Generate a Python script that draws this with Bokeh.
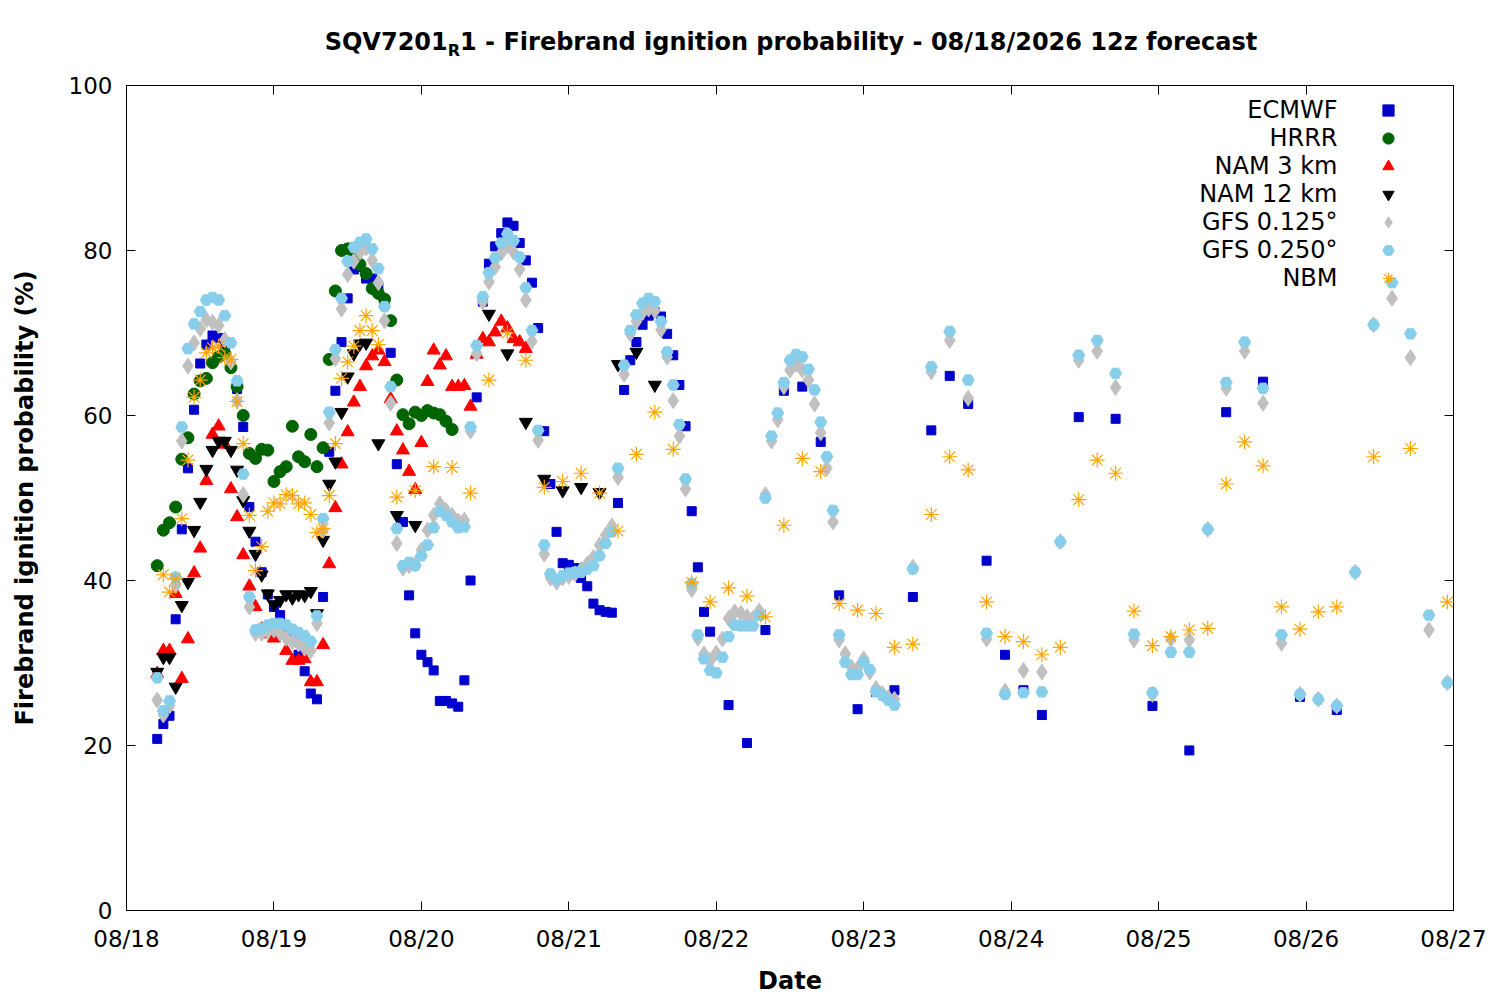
from bokeh.plotting import figure
from bokeh.layouts import column
from bokeh.models import Range1d, FixedTicker, LinearAxis, Label, Legend, LegendItem, Div
from bokeh.embed import file_html
from bokeh.resources import INLINE

# x axis: hours after 08/18 00:00, one tick per day
tick_hours = [0, 24, 48, 72, 96, 120, 144, 168, 192, 216]
tick_labels = ["08/18", "08/19", "08/20", "08/21", "08/22",
               "08/23", "08/24", "08/25", "08/26", "08/27"]

# ECMWF: hourly, then 3-hourly, then 6-hourly
ecmwf_hours = list(range(5, 96)) + list(range(98, 150, 3)) + list(range(155, 198, 6))
ecmwf = [20.8, 22.6, 23.6, 35.3, 46.2, 53.6, 60.7, 66.3, 68.6, 69.7,
         69.4, 68.2, 66.0, 63.2, 58.6, 48.9, 44.7, 41.0, 38.3, 36.8,
         35.8, 34.2, 32.9, 31.0, 29.0, 26.3, 25.6, 38.0, 55.6, 63.0,
         68.9, 74.2, 77.7, 78.0, 76.6, 76.6, 75.6, 73.9, 67.6, 54.1,
         47.1, 38.2, 33.6, 31.0, 30.1, 29.1, 25.4, 25.4, 25.1, 24.7,
         27.9, 40.0, 62.2, 73.8, 78.4, 80.5, 82.1, 83.4, 83.0, 80.9,
         78.8, 76.1, 70.6, 58.1, 51.7, 45.9, 42.1, 41.9, 41.5, 40.3,
         39.3, 37.2, 36.4, 36.2, 36.1, 49.4, 63.1, 66.7, 68.9, 71.0,
         72.1, 72.5, 72.0, 69.9, 67.3, 63.7, 58.7, 48.4, 41.6, 36.2,
         33.8,
         24.9, 20.3, 34.0, 63.0, 63.5, 56.8, 38.2, 24.4, 26.5, 26.7,
         38.0, 58.2, 64.8, 61.4, 42.4, 31.0, 26.7, 23.7,
         59.8, 59.6, 24.8, 19.4, 60.4, 64.1, 25.9, 24.3]

hrrr_hours = list(range(5, 54))
hrrr = [41.8, 46.1, 47.0, 48.9, 54.7, 57.3, 62.6, 64.2, 64.5, 66.4,
        67.1, 67.5, 65.8, 63.5, 60.0, 55.4, 54.8, 55.9, 55.8, 52.0,
        53.2, 53.8, 58.7, 55.0, 54.4, 57.7, 53.8, 56.1, 66.8, 75.1,
        80.0, 80.2, 79.0, 78.3, 77.2, 75.4, 74.8, 74.1, 71.5, 64.3,
        60.1, 59.0, 60.4, 60.0, 60.6, 60.3, 60.1, 59.3, 58.3]

nam3_hours = list(range(5, 66))
nam3 = [28.7, 31.5, 31.5, 38.4, 28.1, 32.9, 40.9, 43.9, 52.1, 57.7,
        58.7, 56.5, 51.1, 47.7, 43.1, 39.3, 36.8, 34.1, 33.5, 33.0,
        33.4, 31.5, 30.3, 30.3, 30.5, 27.7, 27.7, 32.2, 42.0, 48.8,
        54.1, 58.0, 61.6, 63.5, 66.0, 67.2, 67.9, 66.5, 62.0, 58.1,
        55.8, 53.2, 51.0, 56.7, 64.1, 67.9, 66.1, 67.2, 63.5, 63.5,
        63.6, 61.1, 67.4, 69.3, 68.9, 70.1, 71.4, 70.6, 69.3, 68.9,
        68.1]

nam12_hours = list(range(5, 40)) + [41, 44, 47] + list(range(59, 87, 3))
nam12 = [28.9, 30.7, 30.7, 27.1, 37.0, 39.8, 46.1, 49.5, 53.5, 55.8,
         56.9, 56.9, 55.8, 53.4, 49.7, 46.0, 43.2, 40.7, 38.4, 37.1,
         37.6, 38.3, 37.9, 38.3, 38.2, 38.7, 36.0, 44.9, 51.7, 54.4,
         60.4, 64.7, 67.5, 68.7, 68.8,
         56.6, 47.9, 46.7,
         72.3, 67.5, 59.2, 52.3, 50.9, 51.3, 50.7, 66.2, 67.7, 63.7]

gfs_hours = list(range(5, 126)) + list(range(128, 216, 3))
gfs0125 = [25.5, 23.7, 24.8, 39.4, 56.9, 66.0, 68.8, 70.5, 71.6, 71.3,
           70.9, 69.2, 66.5, 61.8, 50.4, 36.8, 33.6, 33.6, 33.8, 34.0,
           33.6, 33.0, 32.6, 32.3, 31.8, 31.5, 34.8, 46.1, 59.1, 66.9,
           72.9, 77.1, 78.7, 79.8, 80.3, 78.8, 76.1, 71.5, 61.5, 44.5,
           41.5, 41.8, 42.0, 43.7, 46.1, 47.9, 49.3, 48.5, 47.9, 47.2,
           47.3, 58.1, 67.5, 73.8, 76.2, 78.0, 79.7, 80.6, 79.8, 77.7,
           74.0, 69.0, 57.0, 43.2, 40.3, 39.8, 40.3, 40.5, 40.8, 41.3,
           42.0, 42.8, 44.3, 45.5, 46.6, 52.5, 65.0, 69.9, 71.4, 72.5,
           72.9, 72.7, 70.4, 67.1, 61.8, 57.5, 51.1, 38.9, 33.0, 31.1,
           30.3, 31.2, 32.9, 35.4, 36.2, 36.0, 35.6, 35.4, 36.3, 50.4,
           56.9, 59.5, 63.5, 65.5, 66.2, 65.5, 64.3, 61.4, 57.9, 53.6,
           47.1, 32.8, 31.1, 29.5, 29.3, 30.5, 28.9, 26.9, 26.3, 25.8,
           25.6,
           41.6, 65.3, 69.1, 62.1, 32.9, 26.6, 29.1, 28.9, 44.7, 66.7,
           67.8, 63.4, 32.8, 26.2, 32.9, 32.8, 46.2, 63.3, 67.8, 61.5,
           32.4, 26.2, 25.6, 24.8, 41.0, 71.0, 74.2, 67.0, 34.0, 27.6]
gfs0250 = [28.2, 24.2, 25.4, 40.4, 58.6, 68.1, 71.1, 72.6, 74.0, 74.3,
           74.0, 72.1, 68.8, 64.2, 52.9, 38.0, 34.0, 34.2, 34.6, 34.8,
           34.8, 34.6, 34.1, 33.7, 33.3, 32.6, 35.7, 47.5, 60.4, 68.0,
           74.2, 78.7, 80.4, 81.0, 81.4, 80.2, 77.8, 73.2, 63.5, 46.3,
           41.8, 42.2, 41.8, 43.0, 44.3, 46.4, 48.4, 47.9, 47.1, 46.4,
           46.5, 58.6, 68.5, 74.4, 77.3, 79.1, 80.9, 82.0, 81.2, 79.2,
           75.5, 70.3, 58.2, 44.3, 40.8, 40.1, 40.6, 40.9, 41.0, 41.0,
           41.4, 41.8, 43.0, 44.5, 45.9, 53.6, 66.1, 70.3, 72.2, 73.6,
           74.2, 73.8, 71.4, 67.7, 63.7, 58.9, 52.3, 39.6, 33.4, 30.5,
           29.1, 28.8, 30.7, 33.2, 34.6, 34.5, 34.5, 34.5, 35.8, 50.0,
           57.5, 60.3, 64.0, 66.7, 67.4, 67.1, 65.6, 63.1, 59.2, 55.0,
           48.5, 33.4, 30.1, 28.6, 28.6, 30.1, 29.2, 26.5, 26.1, 25.5,
           24.9,
           41.4, 65.9, 70.2, 64.3, 33.6, 26.2, 26.4, 26.5, 44.7, 67.3,
           69.1, 65.1, 33.5, 26.4, 31.3, 31.3, 46.2, 64.0, 68.9, 63.3,
           33.4, 26.2, 25.6, 24.8, 41.0, 71.0, 76.1, 69.9, 35.8, 27.6]

nbm_hours = list(range(6, 42)) + list(range(44, 198, 3)) + [203, 209, 215]
nbm = [40.7, 38.6, 40.2, 47.5, 54.6, 62.2, 64.3, 67.6, 68.2, 68.4,
       67.0, 66.8, 61.7, 56.6, 47.9, 41.2, 44.1, 48.4, 49.4, 49.3,
       50.4, 50.3, 49.3, 49.4, 48.0, 45.8, 46.3, 50.3, 56.6, 64.5,
       66.5, 68.4, 70.3, 72.1, 70.3, 68.6,
       50.1, 50.9, 53.8, 53.7, 50.6, 64.3, 70.0, 66.7, 51.3, 52.0,
       53.0, 50.6, 46.0, 55.3, 60.4, 55.9, 39.8, 37.4, 39.1, 38.1,
       35.6, 46.7, 54.8, 53.2, 37.2, 36.4, 36.0, 31.9, 32.3, 48.0,
       55.0, 53.4, 37.4, 33.2, 32.6, 31.0, 31.9, 49.8, 54.6, 53.0,
       36.3, 32.1, 33.2, 34.0, 34.2, 51.7, 56.8, 53.9, 36.8, 34.1,
       36.2, 36.8,
       55.0, 56.0, 37.4]

FONT = "DejaVu Sans"

# title as HTML so the R can be a subscript
title = Div(text='<div style="font-family:\'DejaVu Sans\'; font-size:24px; font-weight:bold; '
                 'color:black; text-align:center; width:1500px; box-sizing:border-box; '
                 'padding-left:82px; padding-top:29px; line-height:26px; white-space:nowrap;">'
                 'SQV7201<span style="font-size:16px; position:relative; top:6px;">R</span>'
                 '1 - Firebrand ignition probability - 08/18/2026 12z forecast</div>',
            width=1500, height=66, margin=0)

p = figure(width=1500, height=934, output_backend="svg", toolbar_location=None,
           x_range=Range1d(0, 216), y_range=Range1d(0, 100),
           min_border_left=126, min_border_right=47,
           min_border_top=19, min_border_bottom=90, margin=0)
p.grid.visible = False
p.outline_line_color = "black"
p.outline_line_width = 1
p.background_fill_color = "white"
p.border_fill_color = "white"

# axes: ticks pointing inward, mirrored on top and right
for ax in p.xaxis:
    ax.ticker = FixedTicker(ticks=tick_hours)
    ax.major_label_overrides = dict(zip(tick_hours, tick_labels))
for ax in p.yaxis:
    ax.ticker = FixedTicker(ticks=[0, 20, 40, 60, 80, 100])
for ax in list(p.xaxis) + list(p.yaxis):
    ax.major_tick_in = 9
    ax.major_tick_out = 0
    ax.minor_tick_line_color = None
    ax.axis_line_color = None
    ax.major_tick_line_color = "black"
    ax.major_label_text_font = FONT
    ax.major_label_text_font_size = "23px"
    ax.major_label_text_color = "black"
    ax.axis_label_text_font = FONT
    ax.axis_label_text_font_size = "24px"
    ax.axis_label_text_font_style = "bold"
    ax.axis_label_text_color = "black"
p.xaxis.axis_label = "Date"
p.xaxis.major_label_standoff = 15
p.xaxis.axis_label_standoff = 12
p.yaxis.axis_label = "Firebrand ignition probability (%)"
p.yaxis.major_label_standoff = 14
p.yaxis.axis_label_standoff = 27

top = LinearAxis(ticker=FixedTicker(ticks=tick_hours), major_tick_in=9, major_tick_out=0,
                 minor_tick_line_color=None, axis_line_color=None,
                 major_label_text_font_size="1px", major_label_text_color=None,
                 major_label_standoff=0)
right = LinearAxis(ticker=FixedTicker(ticks=[0, 20, 40, 60, 80, 100]), major_tick_in=9,
                   major_tick_out=0, minor_tick_line_color=None, axis_line_color=None,
                   major_label_text_font_size="1px", major_label_text_color=None,
                   major_label_standoff=0)
p.add_layout(top, "above")
p.add_layout(right, "right")

# series, drawn in legend order
r1 = p.scatter(ecmwf_hours, ecmwf, marker="square", size=9, color="#0000cd")
r2 = p.scatter(hrrr_hours, hrrr, marker="circle", size=12, color="#006400")
r3 = p.scatter(nam3_hours, nam3, marker="triangle", size=13, color="#ff0000")
r4 = p.scatter(nam12_hours, nam12, marker="inverted_triangle", size=13, color="black")
r5 = p.scatter(gfs_hours, gfs0125, marker="diamond", size=16, color="#c0c0c0")
r6 = p.scatter(gfs_hours, gfs0250, marker="hex", size=12, color="#87ceeb")
r7 = p.scatter(nbm_hours, nbm, marker="asterisk", size=15, line_color="#ffa500",
               line_width=1.2)

# gnuplot-style key: text right-aligned, symbol on the right
names = ["ECMWF", "HRRR", "NAM 3 km", "NAM 12 km", "GFS 0.125\u00b0", "GFS 0.250\u00b0", "NBM"]
renderers = [r1, r2, r3, r4, r5, r6, r7]
legend = Legend(items=[LegendItem(label=n, renderers=[r]) for n, r in zip(names, renderers)],
                location="top_right", margin=11, padding=0, spacing=0,
                glyph_width=28, glyph_height=28, label_height=28, label_width=40,
                label_standoff=0, label_text_font_size="1px", label_text_color=None,
                background_fill_alpha=0, border_line_color=None)
p.add_layout(legend)
for i, name in enumerate(names):
    p.add_layout(Label(x=1211, y=800.5 - 28 * i, x_units="screen", y_units="screen",
                       text=name, text_align="right", text_baseline="middle",
                       text_font=FONT, text_font_size="24px", text_color="black"))

open("out.html", "w").write(file_html(column(title, p, spacing=0), INLINE))
